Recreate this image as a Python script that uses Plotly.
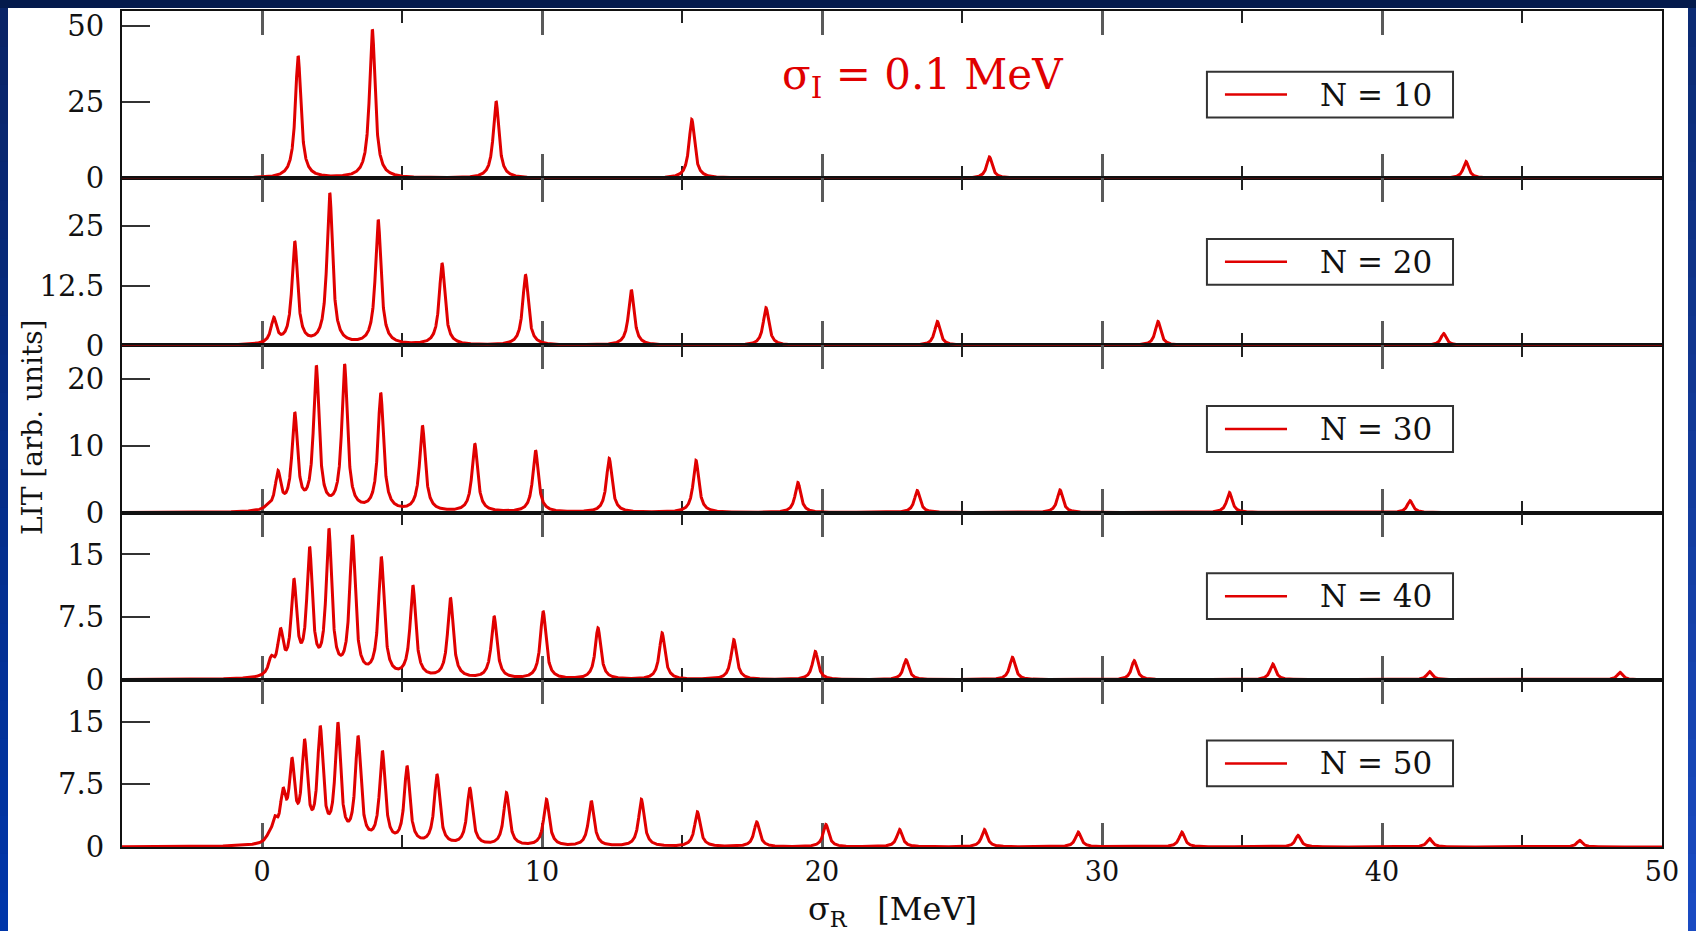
import numpy as np
import plotly.graph_objects as go
from plotly.subplots import make_subplots

# ---------------- data ----------------
x_range = [-5, 50]
x_major = [0, 10, 20, 30, 40, 50]
x_minor = [5, 15, 25, 35, 45]

panel_labels = ["N = 10", "N = 20", "N = 30", "N = 40", "N = 50"]

# peak positions (MeV) and curve heights at the peaks (arb. units)
n10_centers = [1.29, 3.94, 8.36, 15.35, 25.98, 43.0]
n10_heights = [40.2, 48.9, 25.3, 19.3, 7.0, 5.5]

n20_centers = [0.1, 0.42, 1.17, 2.42, 4.15, 6.43, 9.41, 13.19, 18.0, 24.12, 32.0, 42.2]
n20_heights = [0.8, 5.9, 21.8, 31.9, 26.3, 17.2, 14.8, 11.6, 7.9, 5.0, 5.0, 2.5]

n30_centers = [0.2, 0.57, 1.17, 1.94, 2.95, 4.24, 5.73, 7.6, 9.77, 12.4, 15.5,
               19.14, 23.4, 28.5, 34.55, 41.0]
n30_heights = [1.3, 6.3, 15.0, 22.0, 22.2, 17.9, 13.0, 10.3, 9.3, 8.1, 7.8,
               4.5, 3.3, 3.4, 3.0, 1.8]

n40_centers = [0.08, 0.33, 0.66, 1.14, 1.70, 2.39, 3.23, 4.26, 5.39, 6.73, 8.29,
               10.04, 12.0, 14.29, 16.85, 19.76, 23.0, 26.8, 31.15, 36.1, 41.7, 48.5]
n40_heights = [0.8, 2.9, 6.2, 12.1, 15.9, 18.1, 17.3, 14.7, 11.3, 9.8, 7.6,
               8.2, 6.2, 5.6, 4.8, 3.4, 2.4, 2.7, 2.3, 1.9, 1.0, 0.9]

n50_centers = [0.1, 0.22, 0.45, 0.75, 1.07, 1.52, 2.08, 2.71, 3.43, 4.30, 5.18,
               6.25, 7.42, 8.73, 10.16, 11.76, 13.55, 15.55, 17.67, 20.14, 22.77,
               25.8, 29.15, 32.85, 37.0, 41.7, 47.06]
n50_heights = [0.8, 1.6, 3.7, 7.1, 10.7, 12.9, 14.5, 14.9, 13.3, 11.5, 9.7,
               8.7, 7.1, 6.5, 5.7, 5.5, 5.7, 4.2, 3.0, 2.7, 2.1,
               2.1, 1.8, 1.8, 1.4, 1.0, 0.8]

y_ranges = [[0, 55], [0, 35], [0, 25], [0, 20], [0, 20]]
y_ticks = [[0, 25, 50], [0, 12.5, 25], [0, 10, 20], [0, 7.5, 15], [0, 7.5, 15]]
y_ticktext = [["0", "25", "50"], ["0", "12.5", "25"], ["0", "10", "20"],
              ["0", "7.5", "15"], ["0", "7.5", "15"]]

sigma_label = "σ<sub>I</sub> = 0.1 MeV"
x_title = "σ<sub>R</sub>\u00a0\u00a0\u00a0[MeV]"
y_title = "LIT [arb. units]"

lorentz_halfwidth = 0.12  # MeV, width of each LIT peak

panels = [(n10_centers, n10_heights), (n20_centers, n20_heights),
          (n30_centers, n30_heights), (n40_centers, n40_heights),
          (n50_centers, n50_heights)]


def peak_amplitudes(centers, heights, g):
    c = np.asarray(centers, float)
    h = np.asarray(heights, float)
    A = 1.0 / (1.0 + ((c[:, None] - c[None, :]) / g) ** 2)
    a = h.copy()
    for _ in range(400):
        for i in range(len(c)):
            s = A[i] @ a - a[i]
            a[i] = max(0.0, h[i] - s)
    return c, a


def lit_curve(x, centers, heights, g):
    c, a = peak_amplitudes(centers, heights, g)
    return (a[None, :] / (1.0 + ((x[:, None] - c[None, :]) / g) ** 2)).sum(axis=1)


x = np.linspace(x_range[0], x_range[1], 11001)

# ---------------- figure ----------------
W, H = 1696, 931
ML, MR, MT, MB = 122, 34, 9, 84
PW, PH = W - ML - MR, H - MT - MB

fig = make_subplots(rows=5, cols=1, shared_xaxes=True, vertical_spacing=0)

RED = "#e00000"
SERIF = "DejaVu Serif"

for r, (cs, hs) in enumerate(panels, start=1):
    y = lit_curve(x, cs, hs, lorentz_halfwidth)
    fig.add_trace(go.Scatter(x=x, y=y, mode="lines", name=panel_labels[r - 1],
                             line=dict(color=RED, width=3), showlegend=False,
                             hoverinfo="skip"), row=r, col=1)
    fig.update_xaxes(row=r, col=1, range=x_range, showline=True, linecolor="#111",
                     linewidth=2, mirror="ticks", ticks="inside", ticklen=24,
                     tickwidth=3, tickcolor="#5a5a5a", tickvals=x_major,
                     ticktext=[str(v) for v in x_major],
                     minor=dict(tickvals=x_minor, ticks="inside", ticklen=12,
                                tickwidth=2, tickcolor="#222"),
                     showgrid=False, zeroline=False, layer="below traces",
                     showticklabels=(r == 5), ticklabelstandoff=0,
                     tickfont=dict(family=SERIF, size=27, color="#111"))
    fig.update_yaxes(row=r, col=1, range=y_ranges[r - 1], tickvals=y_ticks[r - 1],
                     ticktext=y_ticktext[r - 1], showline=True, linecolor="#111",
                     linewidth=2, mirror=True, ticks="inside", ticklen=28,
                     tickwidth=2, tickcolor="#333", showgrid=False,
                     zeroline=False, layer="below traces", ticklabelstandoff=10,
                     tickfont=dict(family=SERIF, size=29, color="#111"))

    xd = "x domain" if r == 1 else f"x{r} domain"
    yd = "y domain" if r == 1 else f"y{r} domain"
    fig.add_shape(type="rect", xref=xd, yref=yd, x0=0.7045, x1=0.8643,
                  y0=0.363, y1=0.637, line=dict(color="#333", width=2),
                  fillcolor="white")
    fig.add_shape(type="line", xref=xd, yref=yd, x0=0.7162, x1=0.7565,
                  y0=0.5, y1=0.5, line=dict(color=RED, width=2.5))
    fig.add_annotation(xref=xd, yref=yd, x=0.8146, y=0.5, text=panel_labels[r - 1],
                       showarrow=False, xanchor="center", yanchor="middle",
                       font=dict(family=SERIF, size=31, color="#111"))

# sigma_I label
fig.add_annotation(xref="x", yref="y", x=23.6, y=33, text=sigma_label,
                   showarrow=False, xanchor="center", yanchor="middle",
                   font=dict(family=SERIF, size=42, color=RED))


def px_x(p):
    return (p - ML) / PW


def px_y(p):
    return (H - MB - p) / PH


# axis titles
fig.add_annotation(xref="paper", yref="paper", x=0.5, y=px_y(911), text=x_title,
                   showarrow=False, xanchor="center", yanchor="middle",
                   font=dict(family=SERIF, size=32, color="#111"))
fig.add_annotation(xref="paper", yref="paper", x=px_x(32), y=px_y(426), text=y_title,
                   showarrow=False, textangle=-90, xanchor="center", yanchor="middle",
                   font=dict(family=SERIF, size=28, color="#111"))

# slide background: blue frame around a white sheet
fig.add_shape(type="rect", xref="paper", yref="paper", layer="below",
              x0=px_x(8), x1=px_x(1688), y0=px_y(940), y1=px_y(6),
              line=dict(width=0), fillcolor="white")


def mix(c1, c2, t):
    a = [int(c1[i:i + 2], 16) for i in (1, 3, 5)]
    b = [int(c2[i:i + 2], 16) for i in (1, 3, 5)]
    return "#" + "".join(f"{round(a[k] + (b[k] - a[k]) * t):02x}" for k in range(3))


nseg = 24
for k in range(nseg):
    t0, t1 = k / nseg, (k + 1) / nseg
    ya, yb = 6 + t0 * (H - 6), 6 + t1 * (H - 6) + 1
    fig.add_shape(type="rect", xref="paper", yref="paper", layer="below",
                  x0=px_x(-2), x1=px_x(8), y0=px_y(yb), y1=px_y(ya),
                  line=dict(width=0), fillcolor=mix("#0a2466", "#0036aa", (t0 + t1) / 2))
    fig.add_shape(type="rect", xref="paper", yref="paper", layer="below",
                  x0=px_x(1688), x1=px_x(W + 2), y0=px_y(yb), y1=px_y(ya),
                  line=dict(width=0), fillcolor=mix("#0c2a72", "#1a4cc4", (t0 + t1) / 2))
fig.add_shape(type="rect", xref="paper", yref="paper", layer="below",
              x0=px_x(-2), x1=px_x(W + 2), y0=px_y(6), y1=px_y(-2),
              line=dict(width=0), fillcolor="#041a4c")

fig.update_layout(width=W, height=H, margin=dict(l=ML, r=MR, t=MT, b=MB),
                  paper_bgcolor="#0a2a80", plot_bgcolor="white", showlegend=False,
                  font=dict(family=SERIF, color="#111"))

fig.write_html("out.html", config={"displayModeBar": False},
               post_script="document.documentElement.style.margin='0';"
                           "document.body.style.margin='0';"
                           "document.body.style.overflow='hidden';")
